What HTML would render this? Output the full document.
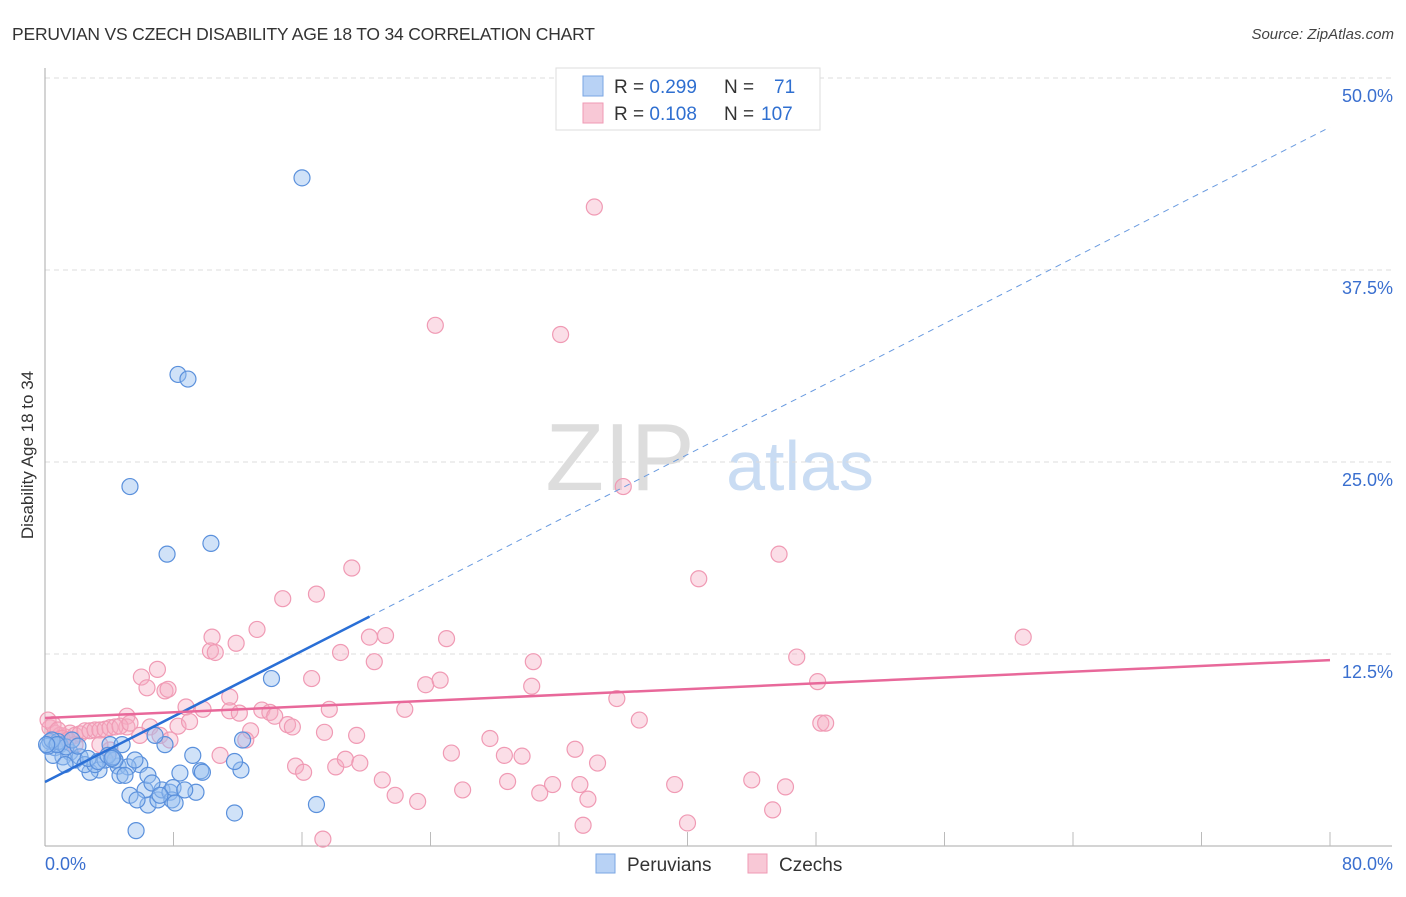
<!DOCTYPE html>
<html><head><meta charset="utf-8"><style>
body{margin:0;background:#fff;font-family:"Liberation Sans",sans-serif;}
svg text{font-family:"Liberation Sans",sans-serif;}
</style></head><body>
<svg id="chart" width="1406" height="892" viewBox="0 0 1406 892">
<text x="12" y="40" font-size="17.5" fill="#333" letter-spacing="-0.2">PERUVIAN VS CZECH DISABILITY AGE 18 TO 34 CORRELATION CHART</text>
<text x="1394" y="39" font-size="15" fill="#444" text-anchor="end" font-style="italic">Source: ZipAtlas.com</text>
<g><text x="620" y="490" font-size="96" font-family="Liberation Serif" fill="#ddd" text-anchor="middle">ZIP</text><text x="800" y="490" font-size="70" fill="#c9dcf3" text-anchor="middle">atlas</text></g>
<g id="grid"></g><g id="axes"></g><g id="pts"></g><g id="lines"></g>
<text transform="translate(33,455) rotate(-90)" font-size="17" fill="#333" text-anchor="middle">Disability Age 18 to 34</text>
<g>
<rect x="556" y="68" width="264" height="62" fill="#fff" stroke="#ddd"/>
<rect x="583" y="76" width="20" height="20" fill="#b8d2f5" stroke="#7aa6e3"/>
<rect x="583" y="103" width="20" height="20" fill="#f8c8d6" stroke="#ef9ab4"/>
<text x="614" y="93" font-size="19" fill="#333">R = <tspan fill="#2f6fd0">0.299</tspan><tspan x="724">N = </tspan><tspan x="774" fill="#2f6fd0">71</tspan></text>
<text x="614" y="120" font-size="19" fill="#333">R = <tspan fill="#2f6fd0">0.108</tspan><tspan x="724">N = </tspan><tspan x="761" fill="#2f6fd0">107</tspan></text>
</g>
<g>
<rect x="596" y="854" width="19" height="19" fill="#b8d2f5" stroke="#7aa6e3"/>
<text x="627" y="871" font-size="19" fill="#333">Peruvians</text>
<rect x="748" y="854" width="19" height="19" fill="#f8c8d6" stroke="#ef9ab4"/>
<text x="779" y="871" font-size="19" fill="#333">Czechs</text>
</g>
</svg>
<script>
const yTicks=[12.5,25,37.5,50];
const yTickLabels=["12.5%","25.0%","37.5%","50.0%"];
const xTickLabels=["0.0%","80.0%"];
const blueX=[16.0,8.28,8.9,5.29,7.6,10.33,14.1,12.3,12.2,11.8,7.47,6.85,4.05,4.8,9.2,5.9,8.4,9.7,9.8,4.55,5.17,3.36,2.8,0.62,0.31,0.93,1.56,2.18,1.12,1.87,2.49,3.11,3.74,4.36,4.67,5.29,6.41,7.03,7.28,7.78,7.9,6.23,6.41,9.4,7.97,11.8,16.9,5.67,0.5,0.19,0.81,1.31,1.68,2.05,2.68,3.3,3.92,4.23,5.6,4.98,6.66,7.16,8.1,5.73,1.25,0.44,0.75,0.1,8.7,4.17];
const blueY=[43.5,30.7,30.4,23.4,19.0,19.7,10.9,6.9,4.95,5.5,6.6,7.2,6.6,6.6,5.9,5.3,4.75,4.9,4.8,5.2,5.15,4.95,4.8,6.4,6.8,6.6,6.1,5.8,5.8,5.6,5.3,5.3,5.6,5.6,4.6,3.3,2.67,3.0,3.65,3.5,3.0,3.65,4.6,3.5,3.8,2.15,2.7,1.0,5.9,6.5,6.8,6.45,6.9,6.5,5.7,5.5,5.9,5.8,5.6,4.6,4.1,3.3,2.8,3.0,5.3,6.9,6.6,6.6,3.65,5.7];
const pinkX=[34.2,24.3,32.1,36.0,45.7,40.7,60.9,19.1,14.8,16.9,10.4,11.9,13.2,20.2,21.2,25.0,18.4,20.5,30.4,46.8,10.3,10.6,7.0,6.0,6.35,7.47,7.66,16.6,23.7,24.6,30.3,48.1,35.6,11.5,8.78,9.84,11.5,12.1,13.5,14.0,14.3,17.7,22.4,15.1,15.4,37.0,48.3,48.6,5.1,5.1,6.54,8.28,9.0,12.8,12.5,17.4,19.4,27.7,33.0,25.3,28.6,29.7,10.9,15.6,16.1,18.1,18.7,19.6,34.4,21.0,21.8,26.0,28.8,30.8,31.6,33.3,33.8,23.2,39.2,44.0,46.1,45.3,33.5,40.0,17.3,0.31,0.62,0.93,1.25,1.56,1.87,2.18,2.49,2.8,3.11,3.42,3.74,4.05,4.36,4.67,5.29,0.19,0.5,0.81,1.06,1.43,1.87,5.9,7.16,7.78,4.05,3.42];
const pinkY=[41.6,33.9,33.3,23.4,19.0,17.4,13.6,18.1,16.1,16.4,13.6,13.2,14.1,13.6,13.7,13.5,12.6,12.0,12.0,12.3,12.7,12.6,11.5,11.0,10.3,10.1,10.2,10.9,10.5,10.8,10.4,10.7,9.6,9.7,9.05,8.9,8.8,8.65,8.85,8.7,8.45,8.9,8.9,7.9,7.75,8.2,8.0,8.0,8.45,7.75,7.75,7.8,8.1,7.5,6.9,7.4,7.2,7.0,6.3,6.05,5.9,5.85,5.9,5.2,4.8,5.15,5.65,5.4,5.4,4.3,3.3,3.65,4.2,3.45,4.0,4.0,3.05,2.9,4.0,4.3,3.85,2.35,1.35,1.5,0.45,7.7,7.35,7.2,7.1,7.35,7.2,7.3,7.5,7.5,7.55,7.55,7.6,7.7,7.75,7.8,8.0,8.2,7.9,7.55,7.0,6.9,6.6,7.2,7.2,6.9,6.25,6.6];
const blueLine=[4.17,46.8];const blueSolidEnd=20.2;
const pinkLine=[8.33,12.1];
const X0=45,X1=1330,Y0=846,Y1=78;
const sx=v=>X0+(v/80)*(X1-X0), sy=v=>Y0-(v/50)*(Y0-Y1);
const NS="http://www.w3.org/2000/svg";
function mk(tag,attrs,parent){const e=document.createElementNS(NS,tag);for(const k in attrs)e.setAttribute(k,attrs[k]);document.getElementById(parent).appendChild(e);return e;}
yTicks.forEach((t,i)=>{
 const g=mk('line',{x1:X0,x2:1392,y1:sy(t),y2:sy(t),stroke:'#ddd','stroke-dasharray':'5,4'},'grid');
 
 
 const l=mk('text',{x:1393,y:sy(t)+24,'font-size':18,fill:'#3a6fcf','text-anchor':'end'},'grid');
 l.textContent=yTickLabels[i];
 
 
});
const ax=mk('line',{x1:X0,x2:X0,y1:68,y2:Y0,stroke:'#aaa'},'axes');


const bx=mk('line',{x1:X0,x2:1392,y1:Y0,y2:Y0,stroke:'#aaa'},'axes');


for(let v=8;v<=80;v+=8){const t=mk('line',{x1:sx(v),x2:sx(v),y1:Y0-14,y2:Y0,stroke:'#bbb'},'axes');
 
 }
[[0,'start',45],[80,'end',1393]].forEach((d,i)=>{const t=mk('text',{x:d[2],y:870,'font-size':18,fill:'#3a6fcf','text-anchor':d[1]},'axes');t.textContent=xTickLabels[i];
 
 });
pinkX.forEach((x,i)=>{const c=mk('circle',{cx:sx(x),cy:sy(pinkY[i]),r:8,fill:'rgba(246,172,194,0.4)',stroke:'#f09ab4','stroke-width':1.2},'pts');
 
 });
blueX.forEach((x,i)=>{const c=mk('circle',{cx:sx(x),cy:sy(blueY[i]),r:8,fill:'rgba(150,190,240,0.45)',stroke:'#5a90dc','stroke-width':1.2},'pts');
 
 });
const bAt=v=>blueLine[0]+(blueLine[1]-blueLine[0])*v/80;
const b1=mk('line',{x1:sx(0),y1:sy(bAt(0)),x2:sx(blueSolidEnd),y2:sy(bAt(blueSolidEnd)),stroke:'#2a6fd6','stroke-width':2.5},'lines');


const b2=mk('line',{x1:sx(blueSolidEnd),y1:sy(bAt(blueSolidEnd)),x2:sx(80),y2:sy(bAt(80)),stroke:'#6a9be0','stroke-width':1,'stroke-dasharray':'6,5'},'lines');


const p1=mk('line',{x1:sx(0),y1:sy(pinkLine[0]),x2:sx(80),y2:sy(pinkLine[1]),stroke:'#e8689a','stroke-width':2.5},'lines');


</script>
</body></html>
